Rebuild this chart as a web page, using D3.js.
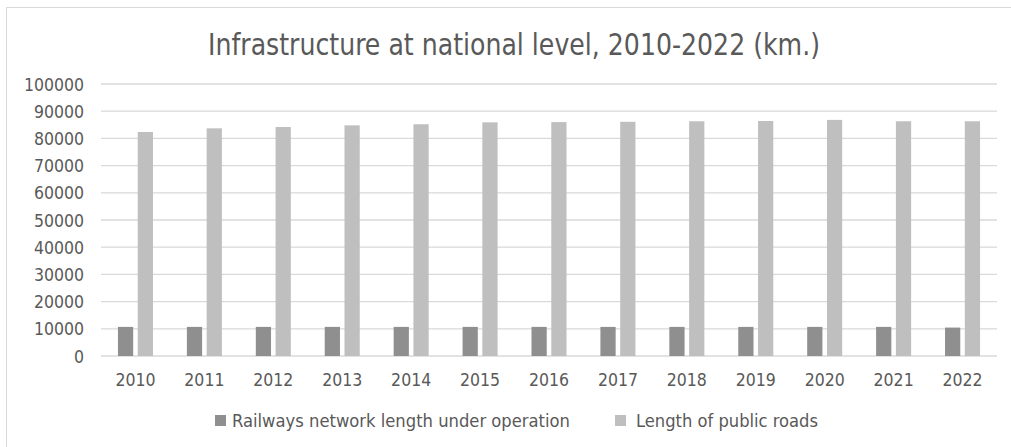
<!DOCTYPE html>
<html>
<head>
<meta charset="utf-8">
<script src="https://cdn.jsdelivr.net/npm/d3@7"></script>
<style>
  html, body { margin: 0; padding: 0; background: #ffffff; }
  svg { display: block; }
  text { font-family: "DejaVu Sans Condensed", "DejaVu Sans", sans-serif; fill: #595959; }
</style>
</head>
<body>
<svg id="chart" width="1011" height="447"></svg>
<script>
// Infrastructure at national level, 2010-2022 (km.)
const years = ["2010", "2011", "2012", "2013", "2014", "2015", "2016",
               "2017", "2018", "2019", "2020", "2021", "2022"];
const railways = [10700, 10700, 10700, 10700, 10700, 10700, 10700,
                  10700, 10700, 10700, 10700, 10700, 10450];
const roads = [82350, 83700, 84200, 84800, 85200, 85900, 86000,
               86100, 86300, 86400, 86800, 86300, 86300];
const seriesNames = ["Railways network length under operation", "Length of public roads"];
const seriesColors = ["#8f8f8f", "#bfbfbf"];
const yTicks = [0, 10000, 20000, 30000, 40000, 50000, 60000, 70000, 80000, 90000, 100000];

const svg = d3.select("#chart");
const plot = { left: 101, right: 997, top: 84, bottom: 356 };

// chart frame
svg.append("rect")
  .attr("x", 6.5).attr("y", 7.5)
  .attr("width", 1030).attr("height", 460)
  .attr("fill", "#ffffff")
  .attr("stroke", "#d9d9d9").attr("stroke-width", 1);

// title
svg.append("text")
  .attr("x", 514).attr("y", 55)
  .attr("text-anchor", "middle")
  .attr("textLength", 612).attr("lengthAdjust", "spacingAndGlyphs")
  .style("font-size", "31px")
  .text("Infrastructure at national level, 2010-2022 (km.)");

const x0 = d3.scaleBand().domain(years).range([plot.left, plot.right]).paddingInner(0).paddingOuter(0);
const bw = x0.bandwidth();
const x1 = d3.scaleBand().domain([0, 1])
  .range([bw * 0.246, bw * 0.754]).paddingInner(0.23).paddingOuter(0);
const y = d3.scaleLinear().domain([0, 100000]).range([plot.bottom, plot.top]);

// gridlines
svg.append("g").selectAll("line").data(yTicks).join("line")
  .attr("x1", plot.left).attr("x2", plot.right)
  .attr("y1", d => y(d)).attr("y2", d => y(d))
  .attr("stroke", "#d9d9d9").attr("stroke-width", 1.3);

// y axis labels
const yAxis = d3.axisLeft(y).tickValues(yTicks).tickSize(0).tickPadding(0).tickFormat(d3.format("d"));
const gy = svg.append("g").attr("transform", `translate(${plot.left - 17},0)`).call(yAxis);
gy.select(".domain").remove();
gy.selectAll("text").style("font-size", "17.5px").attr("fill", "#595959").attr("dy", "0.35em");

// x axis labels
const xAxis = d3.axisBottom(x0).tickSize(0).tickPadding(0);
const gx = svg.append("g").attr("transform", `translate(0,${plot.bottom + 18})`).call(xAxis);
gx.select(".domain").remove();
gx.selectAll("text").style("font-size", "17.5px").attr("fill", "#595959").attr("dy", "0.71em");

// bars
const series = [railways, roads];
series.forEach((vals, si) => {
  svg.append("g").selectAll("rect").data(years).join("rect")
    .attr("x", d => x0(d) + x1(si))
    .attr("width", x1.bandwidth())
    .attr("y", (d, i) => y(vals[i]))
    .attr("height", (d, i) => y(0) - y(vals[i]))
    .attr("fill", seriesColors[si]);
});

// legend
const legendItems = [
  { name: seriesNames[0], color: seriesColors[0], x: 215, tx: 232, len: 338 },
  { name: seriesNames[1], color: seriesColors[1], x: 615, tx: 636, len: 182 }
];
const lg = svg.append("g");
legendItems.forEach(it => {
  lg.append("rect").attr("x", it.x).attr("y", 415).attr("width", 11).attr("height", 11).attr("fill", it.color);
  lg.append("text").attr("x", it.tx).attr("y", 427)
    .attr("textLength", it.len).attr("lengthAdjust", "spacingAndGlyphs")
    .style("font-size", "18px").text(it.name);
});
</script>
</body>
</html>
